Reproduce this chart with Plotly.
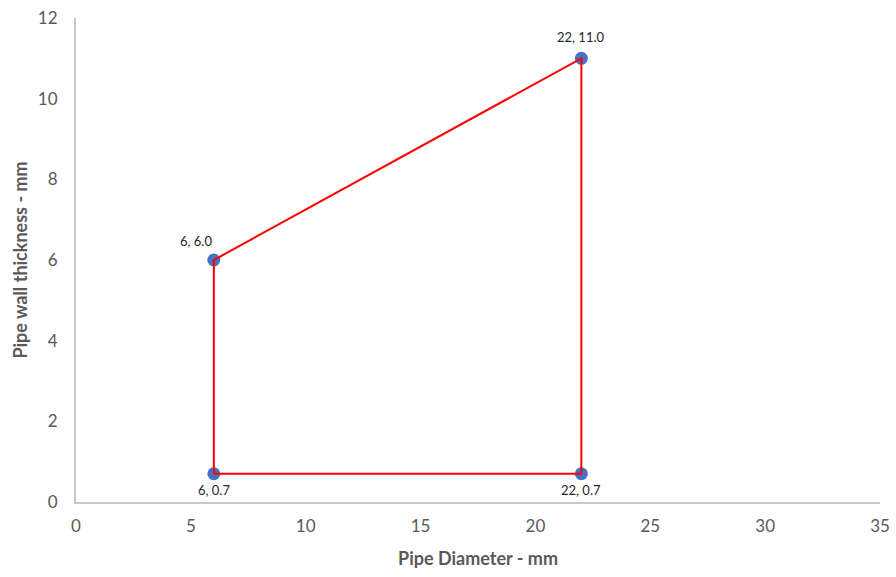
import plotly.graph_objects as go

# Data
diameter = [6, 6, 22, 22]
thickness = [0.7, 6.0, 11.0, 0.7]
labels = ["6, 0.7", "6, 6.0", "22, 11.0", "22, 0.7"]
# closed outline order
path_x = [6, 6, 22, 22, 6]
path_y = [0.7, 6.0, 11.0, 0.7, 0.7]

x_ticks = [0, 5, 10, 15, 20, 25, 30, 35]
y_ticks = [0, 2, 4, 6, 8, 10, 12]

FONT = "Lato"
GREY = "#595959"

fig = go.Figure()
fig.add_trace(go.Scatter(
    x=diameter, y=thickness, mode="markers",
    marker=dict(size=13, color="#4472C4"),
    hoverinfo="skip", showlegend=False,
))
fig.add_trace(go.Scatter(
    x=path_x, y=path_y, mode="lines",
    line=dict(color="#FF0000", width=2),
    showlegend=False,
))

# label offsets (pixels)
shifts = [(0, -16), (-18, 19), (0, 21), (0, -16)]
for xv, yv, t, (dx, dy) in zip(diameter, thickness, labels, shifts):
    fig.add_annotation(x=xv, y=yv, text=t, showarrow=False,
                       xshift=dx, yshift=dy,
                       font=dict(family=FONT, size=13, color="#262626"))

fig.update_layout(
    width=896, height=577,
    margin=dict(l=76, r=16, t=18, b=75),
    paper_bgcolor="white", plot_bgcolor="white",
    font=dict(family=FONT, color=GREY),
)
fig.update_xaxes(
    range=[0, 35], tickvals=x_ticks, showgrid=False, zeroline=False,
    automargin=False,
    showline=True, linecolor="#C8C8C8", linewidth=2,
    ticks="outside", ticklen=8, tickcolor="rgba(0,0,0,0)",
    tickfont=dict(size=17, color=GREY, family=FONT),
    title=dict(text="<b>Pipe Diameter - mm</b>", font=dict(size=18, color=GREY, family=FONT), standoff=17),
)
fig.update_yaxes(
    range=[0, 12], tickvals=y_ticks, showgrid=False, zeroline=False,
    automargin=False,
    showline=True, linecolor="#C8C8C8", linewidth=2,
    ticks="outside", ticklen=13, tickcolor="rgba(0,0,0,0)",
    tickfont=dict(size=17, color=GREY, family=FONT),
    title=dict(text="<b>Pipe wall thickness - mm</b>", font=dict(size=18, color=GREY, family=FONT), standoff=6),
)

fig.write_html(
    "out.html",
    config={"displayModeBar": False},
    post_script="document.body.style.margin='0';document.body.style.overflow='hidden';",
)
